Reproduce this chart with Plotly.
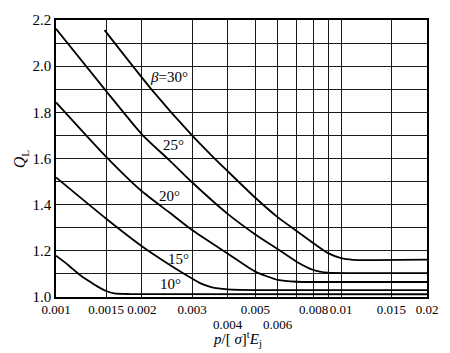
import math
import plotly.graph_objects as go

# ---- data ----
x_b30 = [0.00148, 0.00215, 0.0030, 0.0035, 0.0040, 0.0050, 0.0060, 0.0070, 0.0080, 0.0090, 0.0100, 0.0110, 0.0130, 0.0200]
y_b30 = [2.156, 1.903, 1.700, 1.615, 1.545, 1.430, 1.345, 1.285, 1.233, 1.190, 1.168, 1.161, 1.160, 1.162]

x_b25 = [0.001, 0.0015, 0.002, 0.0025, 0.003, 0.004, 0.005, 0.006, 0.007, 0.008, 0.009, 0.011, 0.02]
y_b25 = [2.162, 1.892, 1.705, 1.592, 1.497, 1.360, 1.271, 1.207, 1.152, 1.117, 1.105, 1.103, 1.103]

x_b20 = [0.001, 0.0015, 0.002, 0.0025, 0.003, 0.004, 0.005, 0.006, 0.007, 0.01, 0.02]
y_b20 = [1.843, 1.607, 1.458, 1.366, 1.290, 1.188, 1.110, 1.074, 1.066, 1.065, 1.065]

x_b15 = [0.001, 0.0015, 0.002, 0.0025, 0.003, 0.0032, 0.0035, 0.004, 0.005, 0.02]
y_b15 = [1.518, 1.339, 1.220, 1.140, 1.080, 1.060, 1.043, 1.033, 1.030, 1.030]

x_b10 = [0.001, 0.0011, 0.0012, 0.0013, 0.0014, 0.0015, 0.0016, 0.0018, 0.02]
y_b10 = [1.179, 1.140, 1.100, 1.070, 1.045, 1.026, 1.016, 1.013, 1.012]

x_grid = [0.001, 0.0015, 0.002, 0.003, 0.004, 0.005, 0.006, 0.007, 0.008, 0.009, 0.01, 0.015, 0.02]
x_ticktext = ["0.001", "0.0015", "0.002", "0.003", "", "0.005", "", "",
              "0.008", "", "0.01", "0.015", "0.02"]
x_lower_vals = [0.004, 0.006]
x_lower_text = ["0.004", "0.006"]
y_grid = [1.0, 1.1, 1.2, 1.3, 1.4, 1.5, 1.6, 1.7, 1.8, 1.9, 2.0, 2.1, 2.2]
y_ticktext = ["1.0", "", "1.2", "", "1.4", "", "1.6", "", "1.8", "", "2.0", "", "2.2"]

curve_labels = ["<i>β</i>=30°", "25°", "20°", "15°", "10°"]
label_x = [0.00249, 0.00259, 0.00251, 0.00268, 0.00253]
label_y = [1.954, 1.659, 1.437, 1.166, 1.056]

FONT = "Liberation Serif"

fig = go.Figure()
for xs, ys in [(x_b30, y_b30), (x_b25, y_b25), (x_b20, y_b20), (x_b15, y_b15), (x_b10, y_b10)]:
    fig.add_trace(go.Scatter(x=xs, y=ys, mode="lines",
                             line=dict(color="black", width=1.8, shape="spline", smoothing=0.6),
                             hoverinfo="skip", showlegend=False))

for t, lx, ly in zip(curve_labels, label_x, label_y):
    fig.add_annotation(x=math.log10(lx), y=ly, xref="x", yref="y", text=t, showarrow=False,
                       font=dict(family=FONT, size=15, color="black"))

for v, t in zip(x_lower_vals, x_lower_text):
    fig.add_annotation(x=math.log10(v), y=-0.098, xref="x", yref="paper", yanchor="middle",
                       text=t, showarrow=False, font=dict(family=FONT, size=13, color="black"))

fig.add_annotation(xref="paper", yref="paper", x=-0.095, y=0.50, xanchor="center",
                   text="<i>Q</i><sub>L</sub>",
                   textangle=-90, showarrow=False, font=dict(family=FONT, size=16, color="black"))
fig.add_annotation(xref="paper", yref="paper", x=0.49, y=-0.15, yanchor="middle",
                   text="<i>p</i>/[ <i>σ</i>]<sup>t</sup><i>E</i><sub>j</sub>",
                   showarrow=False, font=dict(family=FONT, size=15, color="black"))

fig.update_xaxes(type="log", range=[-3, math.log10(0.02)],
                 tickmode="array", tickvals=x_grid, ticktext=x_ticktext, tickangle=0,
                 showgrid=True, gridcolor="#1a1a1a", gridwidth=1.2,
                 showline=True, linecolor="black", linewidth=1.5, mirror=True,
                 ticks="", ticklen=0, zeroline=False,
                 tickfont=dict(family=FONT, size=13, color="black"))
fig.update_yaxes(range=[1.0, 2.2], tickmode="array", tickvals=y_grid, ticktext=y_ticktext,
                 showgrid=True, gridcolor="#1a1a1a", gridwidth=1.2,
                 showline=True, linecolor="black", linewidth=1.5, mirror=True,
                 ticks="", zeroline=False,
                 tickfont=dict(family=FONT, size=15, color="black"))

fig.update_layout(width=450, height=353, margin=dict(l=56, r=20, t=14, b=56),
                  paper_bgcolor="white", plot_bgcolor="white")

fig.write_html("out.html")
